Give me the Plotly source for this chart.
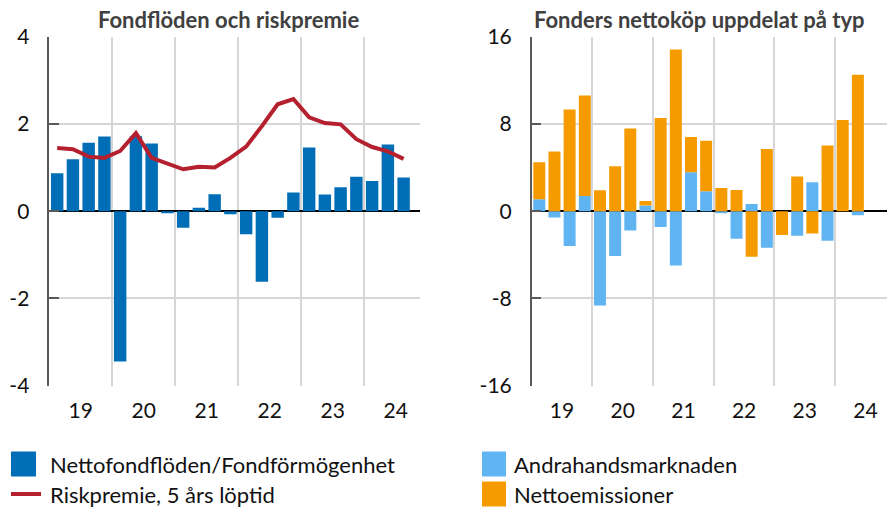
import plotly.graph_objects as go
import numpy as np

# ---------------- data ----------------
quarters_left = ["2019Q1", "2019Q2", "2019Q3", "2019Q4", "2020Q1", "2020Q2", "2020Q3", "2020Q4",
                 "2021Q1", "2021Q2", "2021Q3", "2021Q4", "2022Q1", "2022Q2", "2022Q3", "2022Q4",
                 "2023Q1", "2023Q2", "2023Q3", "2023Q4", "2024Q1", "2024Q2", "2024Q3"]
netflow = [0.87, 1.19, 1.57, 1.71, -3.45, 1.72, 1.55, -0.05, -0.38, 0.08, 0.39, -0.07,
           -0.53, -1.62, -0.15, 0.43, 1.46, 0.38, 0.55, 0.79, 0.69, 1.53, 0.77]
riskpremie = [1.45, 1.42, 1.25, 1.22, 1.38, 1.79, 1.22, 1.08, 0.96, 1.02, 1.00, 1.22,
              1.48, 1.95, 2.45, 2.57, 2.15, 2.02, 1.99, 1.65, 1.47, 1.37, 1.20]

quarters_right = quarters_left[:22]
andrahand = [1.08, -0.58, -3.20, 1.38, -8.65, -4.12, -1.78, 0.52, -1.45, -4.98, 3.57, 1.82,
             -0.20, -2.52, 0.65, -3.35, 0.00, -2.25, 2.65, -2.71, 0.00, -0.37]
nettoemission = [3.41, 5.48, 9.32, 9.23, 1.91, 4.12, 7.57, 0.40, 8.55, 14.83, 3.23, 4.64,
                 2.12, 1.94, -4.18, 5.69, -2.18, 3.17, -2.06, 6.03, 8.37, 12.52]

year_labels = ["19", "20", "21", "22", "23", "24"]
left_ticks = [-4, -2, 0, 2, 4]
left_tick_labels = ["-4", "-2", "0", "2", "4"]
right_ticks = [-16, -8, 0, 8, 16]
right_tick_labels = ["-16", "-8", "0", "8", "16"]

title_left = "Fondflöden och riskpremie"
title_right = "Fonders nettoköp uppdelat på typ"
name_netflow = "Nettofondflöden/Fondförmögenhet"
name_risk = "Riskpremie, 5 års löptid"
name_andra = "Andrahandsmarknaden"
name_netto = "Nettoemissioner"

# ---------------- style ----------------
W, H = 888, 509
FONT = "Lato"
C_BLUE = "#006eb6"
C_LBLUE = "#60b4f2"
C_ORANGE = "#f59b00"
C_RED = "#b5202e"
GRID = "#d6d6d6"
AXIS = "#595959"


def px(x):
    return x / W


def py(y):
    return 1 - y / H


xl = np.arange(len(quarters_left))
xr = np.arange(len(quarters_right))
year_centers = [1.5 + 4 * i for i in range(len(year_labels))]
year_bounds = [3.5 + 4 * i for i in range(len(year_labels) - 1)]

fig = go.Figure()
fig.add_trace(go.Bar(x=xl, y=netflow, name=name_netflow, marker_color=C_BLUE,
                     marker_line_width=0, xaxis="x", yaxis="y", showlegend=False))
fig.add_trace(go.Scatter(x=xl, y=riskpremie, name=name_risk, mode="lines",
                         line=dict(color=C_RED, width=4), xaxis="x", yaxis="y", showlegend=False))
fig.add_trace(go.Bar(x=xr, y=andrahand, name=name_andra, marker_color=C_LBLUE,
                     marker_line_width=0, xaxis="x2", yaxis="y2", showlegend=False))
fig.add_trace(go.Bar(x=xr, y=nettoemission, name=name_netto, marker_color=C_ORANGE,
                     marker_line_width=0, xaxis="x2", yaxis="y2", showlegend=False))

dom_y = [py(385.6), py(36.7)]
tickfont = dict(family=FONT, size=21, color="#111111")


def xaxis_def(domain, rng):
    return dict(domain=domain, range=rng, tickmode="array", tickvals=year_centers,
                ticktext=year_labels, showgrid=False, zeroline=False, showline=False,
                ticks="", tickfont=tickfont, fixedrange=True, ticklabelstandoff=10,
                automargin=False,
                minor=dict(tickmode="array", tickvals=year_bounds, showgrid=True,
                           gridcolor=GRID, gridwidth=1.5, ticks=""))


def yaxis_def(anchor, rng, ticks, labels):
    return dict(domain=dom_y, anchor=anchor, range=rng, tickmode="array", tickvals=ticks,
                ticktext=labels, automargin=False,
                showgrid=True, gridcolor=GRID, gridwidth=1.5, zeroline=True,
                zerolinecolor="#000000", zerolinewidth=2, showline=True, linecolor=AXIS,
                linewidth=1.5, ticks="inside", ticklen=10, tickcolor=AXIS, tickwidth=1.5,
                ticklabelstandoff=14, tickfont=tickfont, fixedrange=True)


def mirror_def(over, anchor, rng, ticks):
    return dict(overlaying=over, anchor=anchor, side="right", range=rng, tickmode="array",
                tickvals=ticks, showgrid=False, zeroline=False, showline=False,
                ticks="inside", ticklen=10, tickcolor=AXIS, tickwidth=1.5, automargin=False,
                showticklabels=False, fixedrange=True)


fig.update_layout(
    template="none",
    width=W, height=H, autosize=False,
    margin=dict(l=0, r=0, t=0, b=0, pad=0, autoexpand=False),
    paper_bgcolor="white", plot_bgcolor="white",
    barmode="relative", bargap=0.21,
    font=dict(family=FONT, size=21, color="#111111"),
    xaxis=xaxis_def([px(49.3), px(420)], [-0.5, 23.04]),
    yaxis=yaxis_def("x", [-4, 4], left_ticks, left_tick_labels),
    xaxis2=xaxis_def([px(531.7), px(887)], [-0.5, 22.92]),
    yaxis2=yaxis_def("x2", [-16, 16], right_ticks, right_tick_labels),
    yaxis3=mirror_def("y", "x", [-4, 4], left_ticks),
    yaxis4=mirror_def("y2", "x2", [-16, 16], right_ticks),
)

annotations = [
    dict(text=f"<b>{title_left}</b>", x=px(229), y=py(20), xref="paper", yref="paper",
         showarrow=False, xanchor="center", yanchor="middle",
         font=dict(family=FONT, size=22, color="#404040")),
    dict(text=f"<b>{title_right}</b>", x=px(699), y=py(20), xref="paper", yref="paper",
         showarrow=False, xanchor="center", yanchor="middle",
         font=dict(family=FONT, size=22, color="#404040")),
]
ROW1, ROW2 = 464, 494
legend_items = [
    (name_netflow, 48, ROW1),
    (name_risk, 48, ROW2),
    (name_andra, 512, ROW1),
    (name_netto, 512, ROW2),
]
for txt, x0, yc in legend_items:
    annotations.append(dict(text=txt, x=px(x0), y=py(yc), xref="paper", yref="paper",
                            showarrow=False, xanchor="left", yanchor="middle",
                            font=dict(family=FONT, size=22, color="#111111")))

shapes = [
    dict(type="rect", xref="paper", yref="paper", x0=px(11), x1=px(36),
         y0=py(ROW1 + 12.5), y1=py(ROW1 - 12.5), fillcolor=C_BLUE, line_width=0),
    dict(type="line", xref="paper", yref="paper", x0=px(11), x1=px(41),
         y0=py(ROW2), y1=py(ROW2), line=dict(color=C_RED, width=4)),
    dict(type="rect", xref="paper", yref="paper", x0=px(482), x1=px(506),
         y0=py(ROW1 + 12.5), y1=py(ROW1 - 12.5), fillcolor=C_LBLUE, line_width=0),
    dict(type="rect", xref="paper", yref="paper", x0=px(482), x1=px(506),
         y0=py(ROW2 + 12.5), y1=py(ROW2 - 12.5), fillcolor=C_ORANGE, line_width=0),
]
fig.update_layout(annotations=annotations, shapes=shapes)

post = ("var s=document.createElement('style');"
        "s.textContent='html,body{margin:0!important;padding:0!important;overflow:hidden;}';"
        "document.head.appendChild(s);")

fig.write_html("out.html", config={"displayModeBar": False}, post_script=post)
